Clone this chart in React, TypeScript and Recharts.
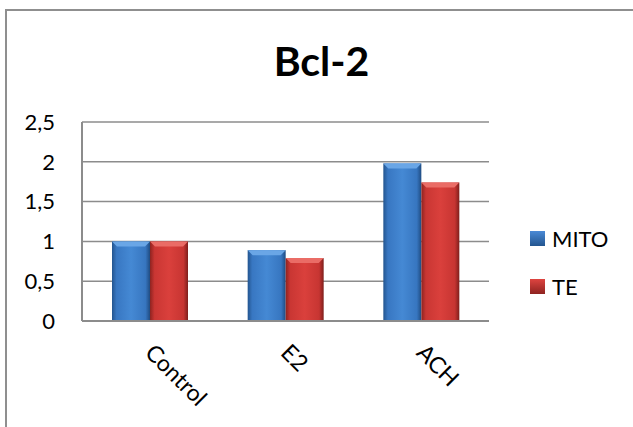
import React from 'react';
import { BarChart, Bar, XAxis, YAxis, CartesianGrid, Legend } from 'recharts';

const categories = ['Control', 'E2', 'ACH'];
const mito = [1.0, 0.89, 1.98];
const te = [1.0, 0.79, 1.74];
const yTicks = [0, 0.5, 1, 1.5, 2, 2.5];

const data = categories.map((name, i) => ({ name, MITO: mito[i], TE: te[i] }));

const FONT = 'Lato, "Open Sans", sans-serif';

const XTick = ({ x, y, payload }: { x?: number; y?: number; payload?: { value: string } }) => {
  const tx = (x ?? 0) - 6;
  const ty = (y ?? 0) + 25;
  return (
    <text x={tx} y={ty} transform={`rotate(45, ${tx}, ${ty})`} textAnchor="start" fontSize={23} fill="#000" fontFamily={FONT}>
      {payload?.value}
    </text>
  );
};

// bar with a lighter bevel along the top edge
const makeBevelBar = (grad: string, top: string) => (props: any) => {
  const { x, y, width, height } = props;
  if (!width || !height) return null;
  const b = 5;
  return (
    <g>
      <rect x={x} y={y} width={width} height={height} fill={`url(#${grad})`} />
      <polygon points={`${x},${y} ${x + width},${y} ${x + width - b},${y + b} ${x + b},${y + b}`} fill={top} />
    </g>
  );
};

const BlueBar = makeBevelBar('gBlue', '#6aa6e6');
const RedBar = makeBevelBar('gRed', '#ea6c66');

const LegendBox = () => (
  <div style={{ fontFamily: FONT, fontSize: 22, color: '#000' }}>
    {[
      { name: 'MITO', c1: '#4a8ad6', c2: '#23558f' },
      { name: 'TE', c1: '#de4440', c2: '#8e2320' },
    ].map((it, i) => (
      <div key={it.name} style={{ display: 'flex', alignItems: 'center', height: 24, marginBottom: i === 0 ? 24 : 0 }}>
        <span
          style={{
            display: 'inline-block',
            width: 15,
            height: 15,
            background: `linear-gradient(to bottom, ${it.c1}, ${it.c2})`,
            marginRight: 7,
          }}
        />
        <span>{it.name}</span>
      </div>
    ))}
  </div>
);

export default function App() {
  return (
    <div style={{ position: 'fixed', left: 0, top: 0, width: 633, height: 427, overflow: 'hidden', background: '#fff' }}>
      <div
        style={{
          position: 'absolute',
          left: 0,
          width: 643,
          top: 36,
          textAlign: 'center',
          fontFamily: FONT,
          fontWeight: 700,
          fontSize: 41,
          lineHeight: '50px',
          color: '#000',
        }}
      >
        Bcl-2
      </div>
      <div style={{ position: 'absolute', left: 0, top: 0 }}>
        <BarChart
          width={633}
          height={427}
          data={data}
          margin={{ top: 122, right: 144, bottom: 76, left: 0 }}
          barSize={38}
          barGap={0}
        >
          <defs>
            <linearGradient id="gBlue" x1="0" y1="0" x2="1" y2="0">
              <stop offset="0%" stopColor="#23558f" />
              <stop offset="12%" stopColor="#3877c2" />
              <stop offset="50%" stopColor="#4589d4" />
              <stop offset="88%" stopColor="#3776c0" />
              <stop offset="100%" stopColor="#1f4c82" />
            </linearGradient>
            <linearGradient id="gRed" x1="0" y1="0" x2="1" y2="0">
              <stop offset="0%" stopColor="#8e2320" />
              <stop offset="12%" stopColor="#c93633" />
              <stop offset="50%" stopColor="#da403c" />
              <stop offset="88%" stopColor="#c73532" />
              <stop offset="100%" stopColor="#7e1f1c" />
            </linearGradient>
          </defs>
          <CartesianGrid vertical={false} stroke="#8c8c8c" strokeWidth={1.5} />
          <XAxis
            dataKey="name"
            height={30}
            tick={<XTick />}
            tickLine={false}
            axisLine={{ stroke: '#8c8c8c', strokeWidth: 2 }}
            interval={0}
          />
          <YAxis
            width={82}
            domain={[0, 2.5]}
            ticks={yTicks}
            tickFormatter={(v: number) => String(v).replace('.', ',')}
            tick={{ fill: '#000', fontSize: 22, fontFamily: FONT }}
            tickLine={false}
            tickSize={0}
            tickMargin={27}
            axisLine={{ stroke: '#8c8c8c', strokeWidth: 2 }}
          />
          <Legend
            layout="horizontal"
            verticalAlign="middle"
            align="center"
            content={<LegendBox />}
            wrapperStyle={{ left: 530, top: 226, width: 100 }}
          />
          <Bar dataKey="MITO" fill="#3877c2" shape={BlueBar} isAnimationActive={false} />
          <Bar dataKey="TE" fill="#c93633" shape={RedBar} isAnimationActive={false} />
        </BarChart>
      </div>
      <div style={{ position: 'absolute', left: 5, top: 9, width: 2, height: 418, background: '#8f8f8f' }} />
      <div style={{ position: 'absolute', left: 5, top: 9, width: 628, height: 2, background: '#8f8f8f' }} />
    </div>
  );
}
